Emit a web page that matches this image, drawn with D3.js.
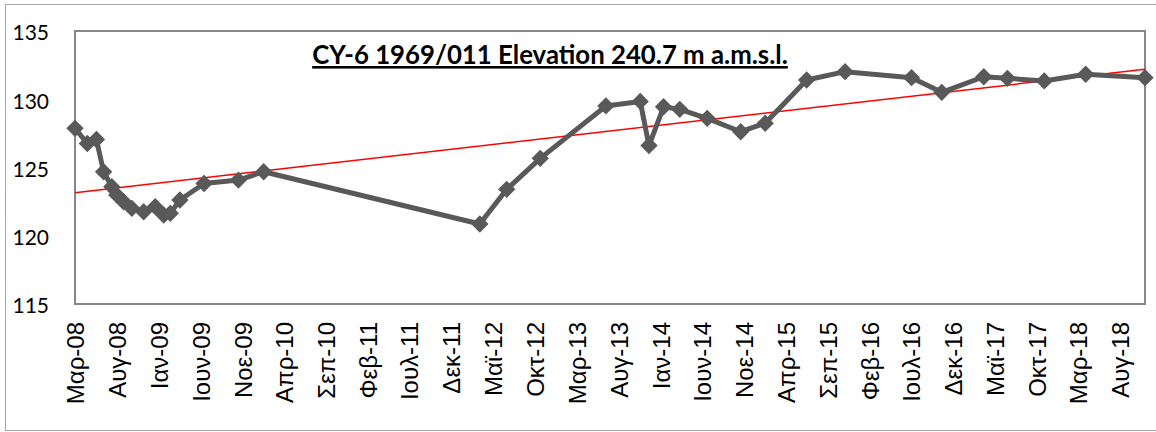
<!DOCTYPE html>
<html>
<head>
<meta charset="utf-8">
<script src="https://cdn.jsdelivr.net/npm/d3@7"></script>
<style>
  body { margin: 0; background: #fff; }
  svg { display: block; }
</style>
</head>
<body>
<div id="chart"></div>
<script>
// measurement dates and water level (m a.m.s.l.)
const dates = [
    "2008-03-01", "2008-04-15", "2008-05-18", "2008-06-13", "2008-07-13", "2008-07-31",
    "2008-08-25", "2008-09-24", "2008-11-06", "2008-12-18", "2009-01-18", "2009-02-11",
    "2009-03-18", "2009-06-14", "2009-10-17", "2010-01-17", "2012-03-14", "2012-06-20",
    "2012-10-20", "2013-06-16", "2013-10-19", "2013-11-20", "2014-01-12", "2014-03-12",
    "2014-06-20", "2014-10-20", "2015-01-17", "2015-06-17", "2015-11-04", "2016-07-03",
    "2016-10-21", "2017-03-23", "2017-06-17", "2017-10-29", "2018-03-29", "2018-10-31"
];
const levels = [
    127.87, 126.76, 127.05, 124.69, 123.59, 122.99,
    122.49, 122.01, 121.76, 122.13, 121.52, 121.64,
    122.62, 123.83, 124.08, 124.69, 120.86, 123.40,
    125.67, 129.51, 129.84, 126.61, 129.45, 129.26,
    128.60, 127.62, 128.24, 131.41, 132.02, 131.58,
    130.51, 131.65, 131.53, 131.34, 131.83, 131.58
];
// linear trend, value at first and last date
const trendValues = [123.15, 132.2];

const tickLabels = [
    "Μαρ-08", "Αυγ-08", "Ιαν-09", "Ιουν-09", "Νοε-09", "Απρ-10", "Σεπ-10",
    "Φεβ-11", "Ιουλ-11", "Δεκ-11", "Μαϊ-12", "Οκτ-12", "Μαρ-13", "Αυγ-13",
    "Ιαν-14", "Ιουν-14", "Νοε-14", "Απρ-15", "Σεπ-15", "Φεβ-16", "Ιουλ-16",
    "Δεκ-16", "Μαϊ-17", "Οκτ-17", "Μαρ-18", "Αυγ-18"
];
const yTicks = [115, 120, 125, 130, 135];
const title = "CY-6 1969/011 Elevation 240.7 m a.m.s.l.";

const width = 1156, height = 432;
const plot = {left: 75, top: 31, right: 1145, bottom: 304};

const parse = d3.timeParse("%Y-%m-%d");
const data = dates.map((d, i) => ({date: parse(d), val: levels[i]}));

const svg = d3.select("#chart").append("svg")
    .attr("width", width).attr("height", height);

// outer chart frame
svg.append("rect")
    .attr("x", 5.5).attr("y", 4.5)
    .attr("width", 1170).attr("height", 426)
    .attr("fill", "none").attr("stroke", "#a6a6a6").attr("stroke-width", 1);

const x = d3.scaleTime()
    .domain(d3.extent(data, d => d.date))
    .range([plot.left, plot.right]);
const y = d3.scaleLinear()
    .domain([115, 135])
    .range([plot.bottom, plot.top]);

// plot area border
svg.append("rect")
    .attr("x", plot.left).attr("y", plot.top)
    .attr("width", plot.right - plot.left).attr("height", plot.bottom - plot.top)
    .attr("fill", "none").attr("stroke", "#878787").attr("stroke-width", 2);

// y axis labels
const yAxis = svg.append("g")
    .attr("transform", `translate(${plot.left},0)`)
    .call(d3.axisLeft(y).tickValues(yTicks).tickSize(0).tickPadding(26));
yAxis.select(".domain").remove();
yAxis.selectAll("text")
    .attr("font-family", "Lato, 'Open Sans', sans-serif")
    .attr("font-size", 21)
    .attr("fill", "#000")
    .attr("dy", "0.42em");

// x axis: one label every 5 months from the first date
const start = x.domain()[0];
const tickDates = tickLabels.map((t, i) => d3.timeMonth.offset(start, 5 * i));
const xAxis = svg.append("g")
    .attr("transform", `translate(0,${plot.bottom})`)
    .call(d3.axisBottom(x).tickValues(tickDates).tickSize(0)
        .tickFormat((d, i) => tickLabels[i]));
xAxis.select(".domain").remove();
xAxis.selectAll("text")
    .attr("font-family", "'Liberation Sans', Arial, sans-serif")
    .attr("font-size", 24)
    .attr("fill", "#000")
    .attr("transform", "rotate(-90)")
    .attr("text-anchor", "end")
    .attr("x", -18)
    .attr("y", 0)
    .attr("dy", "0.36em");

// trend line
svg.append("line")
    .attr("x1", x(x.domain()[0])).attr("y1", y(trendValues[0]))
    .attr("x2", x(x.domain()[1])).attr("y2", y(trendValues[1]))
    .attr("stroke", "#ff0000").attr("stroke-width", 1.5);

// series line
svg.append("path")
    .datum(data)
    .attr("fill", "none")
    .attr("stroke", "#595959")
    .attr("stroke-width", 5)
    .attr("stroke-linejoin", "round")
    .attr("d", d3.line().x(d => x(d.date)).y(d => y(d.val)));

// diamond markers
svg.selectAll(".pt")
    .data(data)
    .join("path")
    .attr("class", "pt")
    .attr("d", d3.symbol(d3.symbolSquare, 150))
    .attr("transform", d => `translate(${x(d.date)},${y(d.val)}) rotate(45)`)
    .attr("fill", "#595959");

// title, squeezed to the width it has in the picture
const t = svg.append("text")
    .attr("x", 550).attr("y", 64)
    .attr("text-anchor", "middle")
    .attr("font-family", "Lato, 'Open Sans', sans-serif")
    .attr("font-weight", "bold")
    .attr("font-size", 24)
    .attr("text-decoration", "underline")
    .attr("fill", "#000")
    .text(title);
const tw = t.node().getComputedTextLength();
t.attr("font-size", 24 * 476 / tw);
</script>
</body>
</html>
